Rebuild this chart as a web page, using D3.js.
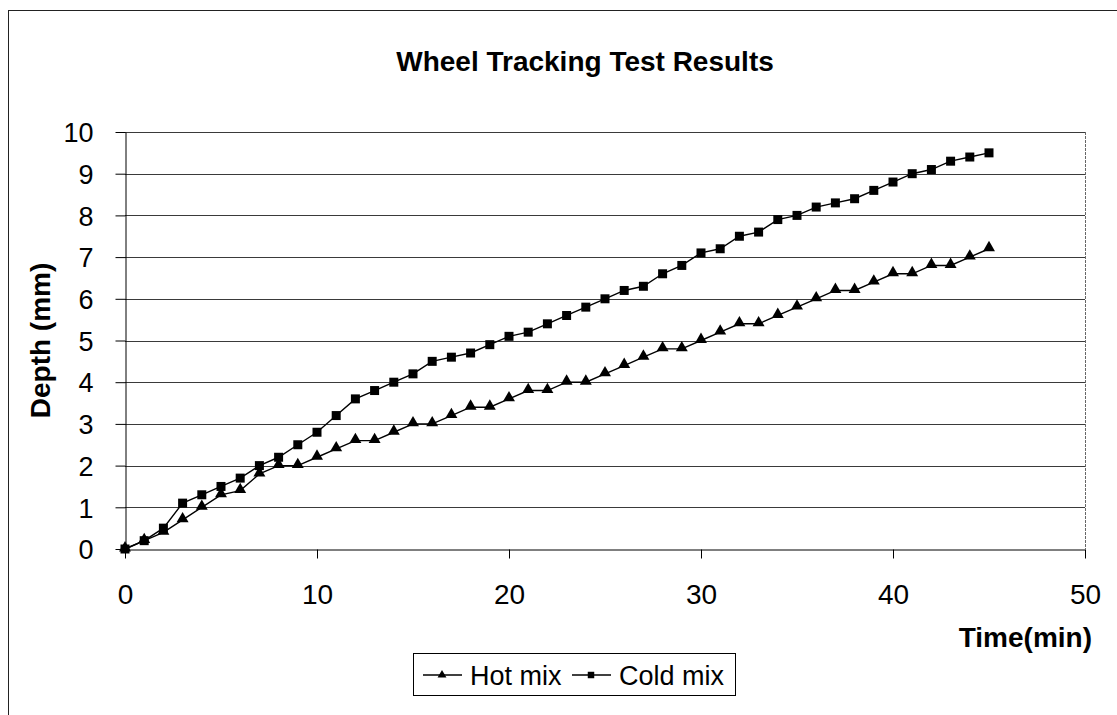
<!DOCTYPE html>
<html lang="en">
<head>
    <meta charset="UTF-8">
    <title>Wheel Tracking Test Results</title>
    <script src="https://cdn.jsdelivr.net/npm/d3@7"></script>
    <style>
        body { margin: 0; background: #fff; }
        svg text { font-family: 'Liberation Sans', Arial, sans-serif; fill: #000; }
        .grid line { stroke: #3a3a3a; stroke-width: 1px; }
        .axis path, .axis line { stroke: #000; stroke-width: 1px; }
    </style>
</head>
<body>
    <div id="chart"></div>
    <script>
        // time in minutes, depth in mm
        const timeMin = d3.range(0, 46);
        const hotMix = [0, 0.2, 0.4, 0.7, 1.0, 1.3, 1.4, 1.8, 2.0, 2.0,
            2.2, 2.4, 2.6, 2.6, 2.8, 3.0, 3.0, 3.2, 3.4, 3.4,
            3.6, 3.8, 3.8, 4.0, 4.0, 4.2, 4.4, 4.6, 4.8, 4.8,
            5.0, 5.2, 5.4, 5.4, 5.6, 5.8, 6.0, 6.2, 6.2, 6.4,
            6.6, 6.6, 6.8, 6.8, 7.0, 7.2];
        const coldMix = [0, 0.2, 0.5, 1.1, 1.3, 1.5, 1.7, 2.0, 2.2, 2.5,
            2.8, 3.2, 3.6, 3.8, 4.0, 4.2, 4.5, 4.6, 4.7, 4.9,
            5.1, 5.2, 5.4, 5.6, 5.8, 6.0, 6.2, 6.3, 6.6, 6.8,
            7.1, 7.2, 7.5, 7.6, 7.9, 8.0, 8.2, 8.3, 8.4, 8.6,
            8.8, 9.0, 9.1, 9.3, 9.4, 9.5];
        const xTicks = [0, 10, 20, 30, 40, 50];
        const yTicks = d3.range(0, 11);
        const seriesNames = ['Hot mix', 'Cold mix'];

        const width = 1117, height = 715;
        const plot = { left: 125, right: 1085, top: 132, bottom: 549 };

        const svg = d3.select('#chart').append('svg')
            .attr('width', width)
            .attr('height', height);

        // outer chart frame (runs off the right and bottom)
        svg.append('rect')
            .attr('x', 8.5).attr('y', 10.5)
            .attr('width', 1200).attr('height', 800)
            .attr('fill', 'none').attr('stroke', '#222');

        const x = d3.scaleLinear().domain([0, 50]).range([plot.left, plot.right]);
        const y = d3.scaleLinear().domain([0, 10]).range([plot.bottom, plot.top]);

        // horizontal gridlines
        svg.append('g').attr('class', 'grid')
            .selectAll('line')
            .data(yTicks.slice(1))
            .enter().append('line')
            .attr('x1', plot.left).attr('x2', plot.right)
            .attr('y1', d => Math.round(y(d)) + 0.5)
            .attr('y2', d => Math.round(y(d)) + 0.5);

        // right border of plot area
        svg.append('line')
            .attr('x1', plot.right + 0.5).attr('x2', plot.right + 0.5)
            .attr('y1', plot.top).attr('y2', plot.bottom)
            .attr('stroke', '#666').attr('stroke-dasharray', '3,1');

        const xAxis = svg.append('g').attr('class', 'axis')
            .attr('transform', `translate(0,${Math.round(y(0)) + 0.5})`)
            .call(d3.axisBottom(x).tickValues(xTicks).tickSize(9).tickSizeOuter(0).tickPadding(26));
        xAxis.selectAll('text').style('font-size', '28px');

        const yAxis = svg.append('g').attr('class', 'axis')
            .attr('transform', `translate(${plot.left + 0.5},0)`)
            .call(d3.axisLeft(y).tickValues(yTicks).tickSize(10).tickSizeOuter(0).tickPadding(22));
        yAxis.selectAll('text').style('font-size', '27px').attr('dy', '0.36em');

        const line = d3.line().x((d, i) => x(timeMin[i])).y(d => y(d));

        [hotMix, coldMix].forEach(vals => {
            svg.append('path')
                .datum(vals)
                .attr('fill', 'none')
                .attr('stroke', '#000')
                .attr('stroke-width', 1.4)
                .attr('d', line);
        });

        const tri = d3.symbol().type(d3.symbolTriangle).size(62);
        const sq = d3.symbol().type(d3.symbolSquare).size(81);

        svg.append('g').selectAll('path')
            .data(hotMix)
            .enter().append('path')
            .attr('d', tri)
            .attr('transform', (d, i) => `translate(${x(timeMin[i])},${y(d) - 1})`)
            .attr('fill', '#000');

        svg.append('g').selectAll('path')
            .data(coldMix)
            .enter().append('path')
            .attr('d', sq)
            .attr('transform', (d, i) => `translate(${x(timeMin[i])},${y(d)})`)
            .attr('fill', '#000');

        // titles
        svg.append('text')
            .attr('x', 585).attr('y', 71)
            .attr('text-anchor', 'middle')
            .style('font-size', '28px').style('font-weight', 'bold')
            .text('Wheel Tracking Test Results');

        svg.append('text')
            .attr('transform', `translate(50,${(plot.top + plot.bottom) / 2}) rotate(-90)`)
            .attr('text-anchor', 'middle')
            .style('font-size', '28px').style('font-weight', 'bold')
            .text('Depth (mm)');

        svg.append('text')
            .attr('x', 1092).attr('y', 647)
            .attr('text-anchor', 'end')
            .style('font-size', '28px').style('font-weight', 'bold')
            .text('Time(min)');

        // legend
        const legend = svg.append('g').attr('transform', 'translate(413,653)');
        legend.append('rect')
            .attr('x', 0.5).attr('y', 0.5)
            .attr('width', 322).attr('height', 42)
            .attr('fill', '#fff').attr('stroke', '#000');

        const legendX = [10, 159];
        seriesNames.forEach((name, k) => {
            const g = legend.append('g').attr('transform', `translate(${legendX[k]},22)`);
            g.append('line')
                .attr('x1', 0).attr('x2', 39)
                .attr('stroke', '#000').attr('stroke-width', 1.3);
            g.append('path')
                .attr('d', k === 0 ? d3.symbol().type(d3.symbolTriangle).size(34)() : d3.symbol().type(d3.symbolSquare).size(42)())
                .attr('transform', 'translate(19,0)')
                .attr('fill', '#000');
            g.append('text')
                .attr('x', 47).attr('y', 10)
                .style('font-size', '27px')
                .text(name);
        });
    </script>
</body>
</html>
